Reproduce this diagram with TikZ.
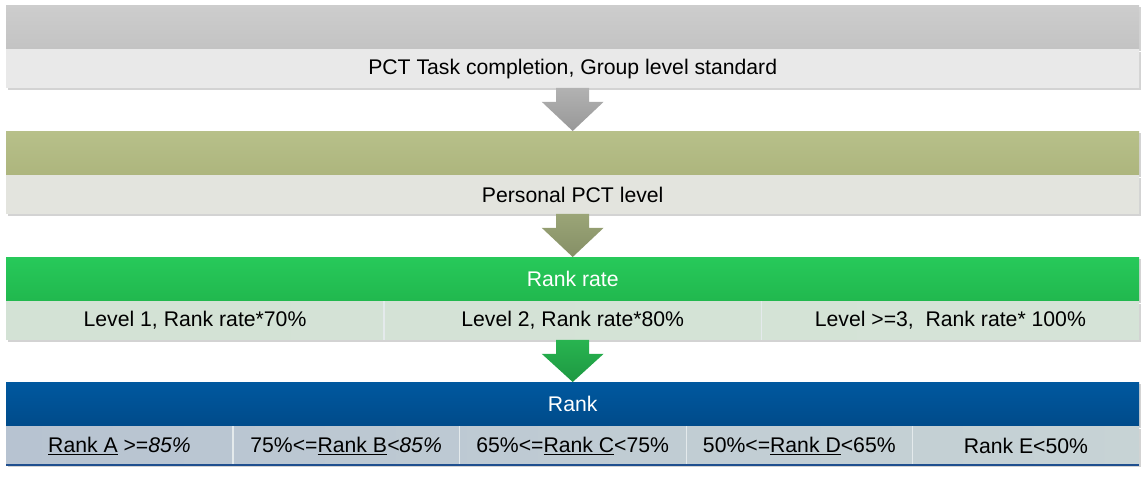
\documentclass[tikz,border=0pt]{standalone}
\usepackage{fontspec}
\setmainfont{Liberation Sans}
\usetikzlibrary{calc,shadows}

% band colours: header top/bottom, row left/right, arrow top/bottom
\definecolor{gryTop}{HTML}{CDCDCD}
\definecolor{gryBot}{HTML}{C3C3C3}
\definecolor{gryRowL}{HTML}{E9E9E9}
\definecolor{gryRowR}{HTML}{E9E9E9}
\definecolor{gryArT}{HTML}{B2B2B2}
\definecolor{gryArB}{HTML}{989898}
\definecolor{olvTop}{HTML}{B7C08A}
\definecolor{olvBot}{HTML}{ADB57D}
\definecolor{olvRowL}{HTML}{E3E4DE}
\definecolor{olvRowR}{HTML}{E3E4DE}
\definecolor{olvArT}{HTML}{9BA577}
\definecolor{olvArB}{HTML}{858F66}
\definecolor{grnTop}{HTML}{27C95A}
\definecolor{grnBot}{HTML}{21B84E}
\definecolor{grnRowL}{HTML}{D3E2D5}
\definecolor{grnRowR}{HTML}{D5E3D7}
\definecolor{grnArT}{HTML}{28B450}
\definecolor{grnArB}{HTML}{1E9842}
\definecolor{bluTop}{HTML}{00589F}
\definecolor{bluBot}{HTML}{004B8A}
\definecolor{bluRowL}{HTML}{B7C3D1}
\definecolor{bluRowR}{HTML}{C7D3D5}
\definecolor{bluLine}{HTML}{1F4F8F}
\definecolor{divider}{HTML}{E4EAEC}

\begin{document}
\begin{tikzpicture}[x=1pt,y=-1pt,
    font=\fontsize{21.2}{25}\selectfont,
    band/.style={anchor=north west,inner sep=0pt,minimum width=1133pt,
      drop shadow={shadow xshift=1.5pt,shadow yshift=-2pt,opacity=0.35}},
    head/.style={band,minimum height=44pt,text=white},
    row/.style={band,minimum height=38pt},
    cell/.style={anchor=north west,inner sep=0pt,minimum height=38pt},
    sep/.style={divider,line width=1.2pt}]
  \useasboundingbox (0,0) rectangle (1147,478);

  % the four bands, header on top of a row
  \foreach \n/\y/\c/\t/\s in {1/5/gry/{}/{PCT Task completion, Group level standard},
      2/131/olv/{}/{Personal PCT level},3/257/grn/{Rank rate}/{},4/382/blu/{Rank}/{}}
  {
    \node[head,top color=\c Top,bottom color=\c Bot] (head\n) at (6,\y) {\t};
    \node[row,left color=\c RowL,right color=\c RowR] (row\n) at (head\n.south west) {\s};
  }

  % rank rate per level
  \pgfmathsetmacro{\wl}{1133/3} % width of a level cell
  \foreach \i/\t in {1/{Level 1, Rank rate*70\%},2/{Level 2, Rank rate*80\%},
      3/{Level >=3,\ \ Rank rate* 100\%}}
    \node[cell,minimum width=\wl pt] (lvl\i) at ($(row3.north west)+({(\i-1)*\wl},0)$) {\t};
  \foreach \i in {1,2}
    \draw[sep] (lvl\i.north east) -- (lvl\i.south east);

  % rank limits
  \pgfmathsetmacro{\wr}{1133/5} % width of a rank cell
  \foreach \i/\t in {1/{\underline{Rank A} >=\textit{85\%}},2/{75\%<=\underline{Rank B}\textit{<85\%}},
      3/{65\%<=\underline{Rank C}<75\%},4/{50\%<=\underline{Rank D}<65\%},5/{Rank E<50\%}}
    \node[cell,minimum width=\wr pt] (rk\i) at ($(row4.north west)+({(\i-1)*\wr},0)$) {\t};
  \foreach \i in {1,...,4}
    \draw[sep] (rk\i.north east) -- (rk\i.south east);
  \draw[bluLine,line width=1.5pt] (row4.south west) -- (row4.south east);

  % block arrows between the bands
  \foreach \a/\b/\c in {row1/head2/gry,row2/head3/olv,row3/head4/grn}
    \shade[top color=\c ArT,bottom color=\c ArB] ($(\a.south)+(-16.5,0)$) -- ++(33,0)
      -- ++(0,14) -- ++(14.5,0) -- (\b.north) -- ($(\a.south)+(-31,14)$) -- ++(14.5,0) -- cycle;
\end{tikzpicture}
\end{document}
